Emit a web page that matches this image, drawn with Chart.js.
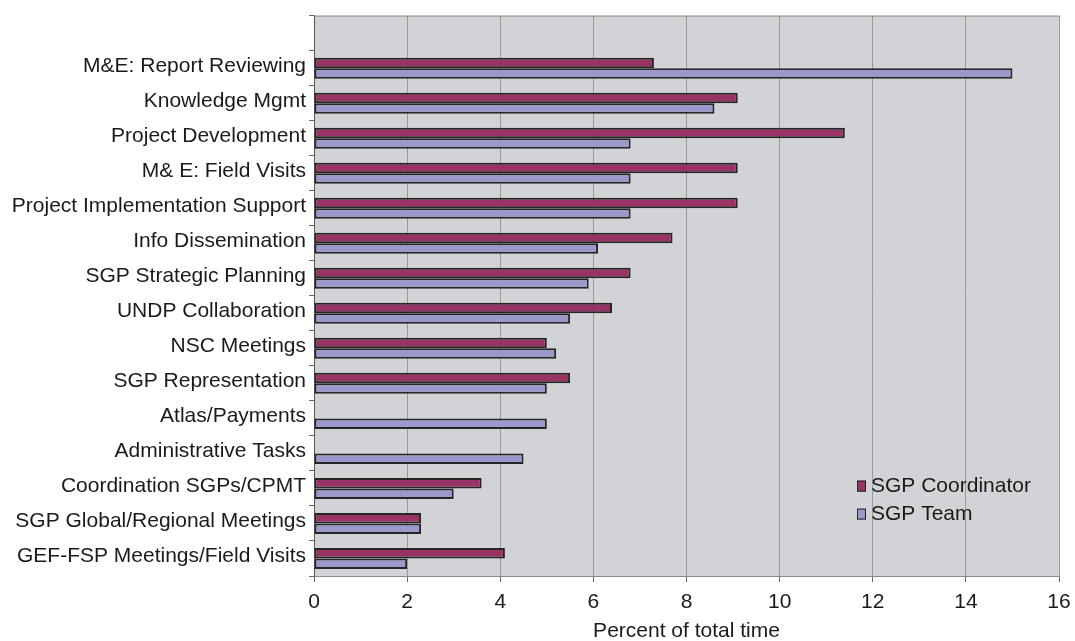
<!DOCTYPE html>
<html>
<head>
<meta charset="utf-8">
<script src="https://cdn.jsdelivr.net/npm/chart.js@4/dist/chart.umd.min.js"></script>
<style>
  html, body { margin: 0; padding: 0; background: #ffffff; }
  #wrap { width: 1075px; height: 641px; position: relative; }
</style>
</head>
<body>
<div id="wrap"><canvas id="c" width="1075" height="641"></canvas></div>
<script>
// ---- data ----
const categories = ["", "M&E: Report Reviewing", "Knowledge Mgmt", "Project Development", "M& E: Field Visits",
  "Project Implementation Support", "Info Dissemination", "SGP Strategic Planning", "UNDP Collaboration",
  "NSC Meetings", "SGP Representation", "Atlas/Payments", "Administrative Tasks", "Coordination SGPs/CPMT",
  "SGP Global/Regional Meetings", "GEF-FSP Meetings/Field Visits"];
const coordinatorValues = [null, 7.3, 9.1, 11.4, 9.1, 9.1, 7.7, 6.8, 6.4, 5.0, 5.5, null, null, 3.6, 2.3, 4.1];
const teamValues = [null, 15.0, 8.6, 6.8, 6.8, 6.8, 6.1, 5.9, 5.5, 5.2, 5.0, 5.0, 4.5, 3.0, 2.3, 2.0];
const seriesNames = ["SGP Coordinator", "SGP Team"];
const xTicks = [0, 2, 4, 6, 8, 10, 12, 14, 16];
const xTitle = "Percent of total time";

const FONT = "'Liberation Sans', Arial, sans-serif";
const TEXT = "#1a1a1a";

const plotBg = {
  id: 'plotBg',
  beforeDraw(chart) {
    const {ctx, chartArea: a} = chart;
    ctx.save();
    ctx.fillStyle = '#d2d3d6';
    ctx.fillRect(a.left, a.top, a.right - a.left, a.bottom - a.top);
    ctx.restore();
  },
  afterDraw(chart) {
    const {ctx, chartArea: a} = chart;
    ctx.save();
    ctx.strokeStyle = '#8c8c8c';
    ctx.lineWidth = 1;
    ctx.beginPath();
    ctx.moveTo(a.left, a.top + 0.5);
    ctx.lineTo(a.right, a.top + 0.5);
    ctx.stroke();
    // legend inside plot
    const x0 = a.left + 543, y0 = a.top + 471;
    ctx.font = "21px " + FONT;
    ctx.textBaseline = 'middle';
    chart.data.datasets.forEach((ds, i) => {
      const y = y0 + i * 28;
      ctx.fillStyle = ds.backgroundColor;
      ctx.fillRect(x0, y - 6, 9, 11);
      ctx.strokeStyle = '#222';
      ctx.lineWidth = 1;
      ctx.strokeRect(x0 + 0.5, y - 5.5, 8, 10);
      ctx.fillStyle = TEXT;
      ctx.fillText(ds.label, x0 + 14, y);
    });
    ctx.restore();
  }
};

new Chart(document.getElementById('c'), {
  type: 'bar',
  data: {
    labels: categories,
    datasets: [
      { label: seriesNames[0], data: coordinatorValues, backgroundColor: '#993366', borderColor: '#262626', borderWidth: 2, borderSkipped: false },
      { label: seriesNames[1], data: teamValues, backgroundColor: '#9999cc', borderColor: '#262626', borderWidth: 2, borderSkipped: false }
    ]
  },
  options: {
    indexAxis: 'y',
    responsive: false,
    animation: false,
    devicePixelRatio: 1,
    categoryPercentage: 0.6,
    barPercentage: 1.0,
    layout: { padding: { top: 13, right: 16, left: 0, bottom: 0 } },
    plugins: { legend: { display: false }, tooltip: { enabled: false } },
    scales: {
      x: {
        type: 'linear', min: 0, max: 16,
        afterBuildTicks(scale) { scale.ticks = xTicks.map(v => ({ value: v })); },
        afterFit(scale) { scale.height = 65; scale.paddingLeft = 0; scale.paddingRight = 0; },
        grid: { color: '#999999', lineWidth: 1, tickLength: 6, tickColor: '#666', drawTicks: true },
        border: { display: true, color: '#8c8c8c' },
        ticks: { color: TEXT, font: { family: FONT, size: 21 }, padding: 8, maxRotation: 0 },
        title: { display: true, text: xTitle, color: TEXT, font: { family: FONT, size: 21, lineHeight: 0.9 }, padding: { top: 0, bottom: 0 } }
      },
      y: {
        type: 'category',
        afterFit(scale) { scale.width = 314; },
        grid: { offset: true, drawOnChartArea: false, drawTicks: true, tickLength: 5, tickColor: '#666' },
        border: { display: true, color: '#555' },
        ticks: { color: TEXT, font: { family: FONT, size: 21 }, padding: 3, autoSkip: false, labelOffset: -2 }
      }
    }
  },
  plugins: [plotBg]
});
</script>
</body>
</html>
